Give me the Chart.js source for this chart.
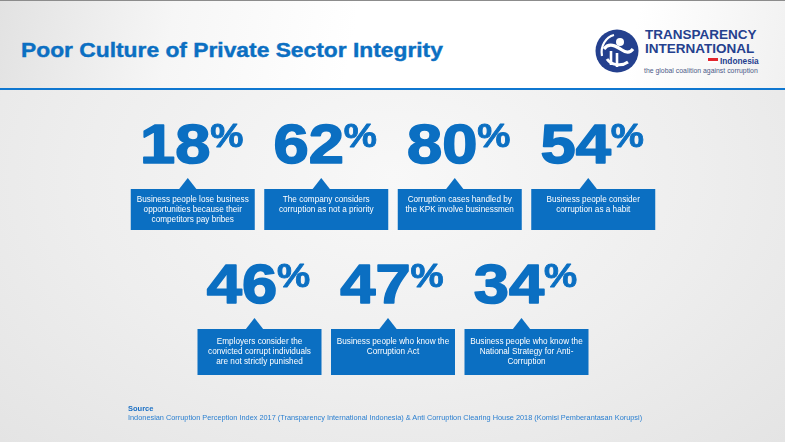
<!DOCTYPE html>
<html>
<head>
<meta charset="utf-8">
<script src="https://cdn.jsdelivr.net/npm/chart.js@4/dist/chart.umd.min.js"></script>
<style>
  html, body { margin: 0; padding: 0; }
  body {
    width: 785px; height: 442px; position: relative; overflow: hidden;
    font-family: Arial, "Liberation Sans", sans-serif;
    background: radial-gradient(ellipse at 50% 40%, #f8f8f8 0%, #eeeeee 55%, #e4e4e4 100%);
  }
  #header {
    position: absolute; left: 0; top: 0; width: 785px; height: 88px;
    border-top: 1px solid #8c8c8c; box-sizing: border-box;
    background: linear-gradient(100deg, #e2e2e2 0%, #f6f6f6 22%, #ffffff 45%, #ffffff 80%, #f1f1f1 100%);
  }
  #rule { position: absolute; left: 0; top: 88px; width: 785px; height: 2px; background: #0f77d0; }
  .t { position: absolute; white-space: nowrap; }
  #title { left: 21px; top: 40px; font-size: 20px; line-height: 20px; font-weight: bold; color: #0b6fc2;
           -webkit-text-stroke: 0.4px #0b6fc2;
           transform: scaleX(1.14); transform-origin: 0 0; }
  #ti1, #ti2 { left: 645px; font-size: 13.5px; line-height: 13px; font-weight: bold; color: #24408e; }
  #ti1 { top: 28px; }
  #ti2 { top: 42px; }
  #ti3 { left: 720px; top: 57px; font-size: 8.3px; line-height: 9px; font-weight: bold; color: #24408e; }
  #ti4 { left: 644px; top: 67px; font-size: 6.9px; line-height: 8px; color: #4b5a88; }
  #flag { position: absolute; left: 708px; top: 58px; width: 10px; height: 5px;
          background: linear-gradient(#e3262d 50%, #ffffff 50%); }
  #logo { position: absolute; left: 595px; top: 29px; }
  #src1 { left: 128px; top: 405px; font-size: 7.5px; line-height: 8px; font-weight: bold; color: #1a6fc4; }
  #src2 { left: 128px; top: 414px; font-size: 7.35px; line-height: 8px; color: #2a7fd0; }
  #stats { position: absolute; left: 0; top: 0; }
</style>
</head>
<body>
<div id="header"></div>
<div id="rule"></div>
<div class="t" id="title">Poor Culture of Private Sector Integrity</div>

<svg id="logo" width="46" height="46" viewBox="0 0 46 46">
  <circle cx="22" cy="22" r="21.5" fill="#24408e"/>
  <circle cx="25" cy="13" r="4" fill="#fff"/>
  <path d="M9 20 C14 13 21 17 27 21 C31 24 35 24 38 20" stroke="#fff" stroke-width="3.2" fill="none"/>
  <path d="M12 30 C16 36 26 38 33 33" stroke="#fff" stroke-width="3" fill="none"/>
  <path d="M16 22 L16 36 M22 24 L22 38" stroke="#fff" stroke-width="2.6" fill="none"/>
  <path d="M7 27 C5 17 11 8 19 6" stroke="#fff" stroke-width="2.2" fill="none"/>
</svg>
<div class="t" id="ti1">TRANSPARENCY</div>
<div class="t" id="ti2">INTERNATIONAL</div>
<div id="flag"></div>
<div class="t" id="ti3">Indonesia</div>
<div class="t" id="ti4">the global coalition against corruption</div>

<canvas id="stats" width="785" height="442"></canvas>

<div class="t" id="src1">Source</div>
<div class="t" id="src2">Indonesian Corruption Perception Index 2017 (Transparency International Indonesia) &amp; Anti Corruption Clearing House 2018 (Komisi Pemberantasan Korupsi)</div>

<script>
// data
const topValues = [18, 62, 80, 54];
const topLabels = [
  "Business people lose business\nopportunities because their\ncompetitors pay bribes",
  "The company considers\ncorruption as not a priority",
  "Corruption cases handled by\nthe KPK involve businessmen",
  "Business people consider\ncorruption as a habit"
];
const bottomValues = [46, 47, 34];
const bottomLabels = [
  "Employers consider the\nconvicted corrupt individuals\nare not strictly punished",
  "Business people who know the\nCorruption Act",
  "Business people who know the\nNational Strategy for Anti-\nCorruption"
];

const BLUE = "#0b6fc2";

// one point per stat: top row sits on whole columns, bottom row between them
const points = [];
topValues.forEach(function (v, i) {
  points.push({ x: i, y: 1, value: v, label: topLabels[i], row: 0 });
});
bottomValues.forEach(function (v, i) {
  points.push({ x: i + 0.5, y: 0, value: v, label: bottomLabels[i], row: 1 });
});

// draws the big number and the callout box at each point
const statPlugin = {
  id: "statPlugin",
  afterDatasetsDraw: function (chart) {
    const ctx = chart.ctx;
    const meta = chart.getDatasetMeta(0);
    const sx = 1.13;
    meta.data.forEach(function (el, i) {
      const p = points[i];
      const cx = el.x, top = el.y;
      const w = 124, h = p.row === 0 ? 41 : 46;

      ctx.save();
      ctx.fillStyle = BLUE;
      ctx.fillRect(cx - w / 2, top, w, h);
      // pointer
      ctx.beginPath();
      ctx.moveTo(cx - 14, top + 0.5);
      ctx.lineTo(cx - 5, top - 11);
      ctx.lineTo(cx + 4, top + 0.5);
      ctx.closePath();
      ctx.fill();

      // caption
      ctx.fillStyle = "#ffffff";
      ctx.font = "8.2px Arial, 'Liberation Sans'";
      ctx.textAlign = "center";
      ctx.textBaseline = "middle";
      const lines = p.label.split("\n");
      const pad = p.row === 0 ? 10.5 : 13;
      lines.forEach(function (ln, k) {
        ctx.fillText(ln, cx, top + pad + k * 10);
      });

      // big number
      const digits = String(p.value);
      const base = top - 26;
      ctx.textAlign = "left";
      ctx.textBaseline = "alphabetic";
      ctx.fillStyle = BLUE;
      ctx.strokeStyle = BLUE;
      ctx.lineJoin = "round";
      ctx.font = "bold 56px Arial, 'Liberation Sans'";
      const dw = ctx.measureText(digits).width * sx;
      ctx.font = "bold 33px Arial, 'Liberation Sans'";
      const pw = ctx.measureText("%").width * sx;
      const x0 = cx - (dw + pw) / 2 - 1;

      ctx.save();
      ctx.translate(x0, base);
      ctx.scale(sx, 1);
      ctx.font = "bold 56px Arial, 'Liberation Sans'";
      ctx.lineWidth = 1.6;
      ctx.fillText(digits, 0, 0);
      ctx.strokeText(digits, 0, 0);
      ctx.restore();

      ctx.save();
      ctx.translate(x0 + dw, base - 16);
      ctx.scale(sx, 1);
      ctx.font = "bold 33px Arial, 'Liberation Sans'";
      ctx.lineWidth = 0.8;
      ctx.fillText("%", 0, 0);
      ctx.strokeText("%", 0, 0);
      ctx.restore();

      ctx.restore();
    });
  }
};

new Chart(document.getElementById("stats"), {
  type: "scatter",
  data: {
    datasets: [{
      data: points,
      pointRadius: 0,
      pointHoverRadius: 0
    }]
  },
  options: {
    responsive: false,
    animation: false,
    events: [],
    layout: { padding: { left: 126, right: 125, top: 189, bottom: 113 } },
    plugins: { legend: { display: false }, tooltip: { enabled: false } },
    scales: {
      x: { type: "linear", min: -0.5, max: 3.5, display: false },
      y: { type: "linear", min: 0, max: 1, display: false }
    }
  },
  plugins: [statPlugin]
});
</script>
</body>
</html>
